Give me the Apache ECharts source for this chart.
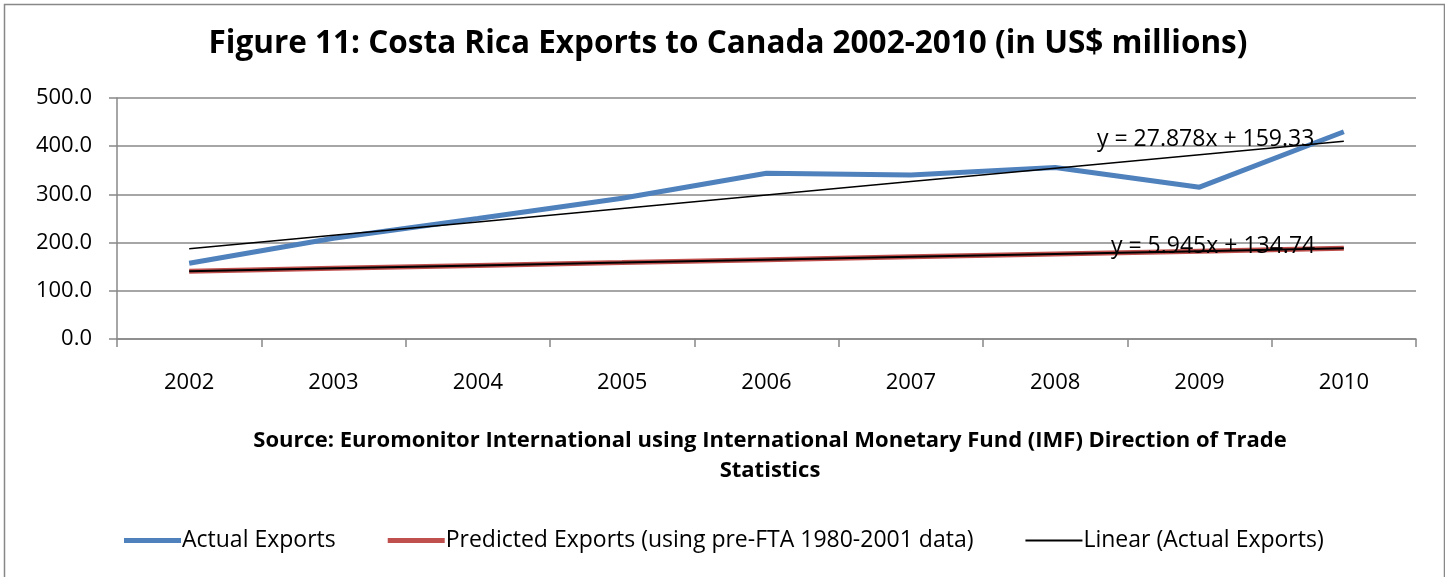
<!DOCTYPE html>
<html>
<head>
<meta charset="utf-8">
<script src="https://cdn.jsdelivr.net/npm/echarts@6/dist/echarts.min.js"></script>
<style>
  html, body { margin: 0; padding: 0; background: #fff; }
  #chart { width: 1445px; height: 577px; }
</style>
</head>
<body>
<div id="chart"></div>
<script>
// Years on the category axis
const years = ['2002', '2003', '2004', '2005', '2006', '2007', '2008', '2009', '2010'];
// Costa Rica exports to Canada, US$ millions
const actualExports = [157, 209, 250, 292, 344, 340, 356, 315, 430];
// Predicted from the pre-FTA 1980-2001 trend
const predictedExports = [140.7, 146.6, 152.6, 158.5, 164.5, 170.4, 176.4, 182.3, 188.2];
// Linear trend coefficients [slope, intercept], x = 1..9
const actualTrend = [27.878, 159.33];
const predictedTrend = [5.945, 134.74];
const yTicks = [0, 100, 200, 300, 400, 500];

const FONT = '"Open Sans", Lato, sans-serif';
const trendPoints = (c) => years.map((_, i) => +(c[0] * (i + 1) + c[1]).toFixed(2));
const eq = (c) => 'y = ' + c[0].toFixed(3) + 'x + ' + c[1].toFixed(2);

const chart = echarts.init(document.getElementById('chart'), null, { renderer: 'canvas' });

chart.setOption({
  animation: false,
  backgroundColor: '#fff',
  title: [
    {
      text: 'Figure 11: Costa Rica Exports to Canada 2002-2010 (in US$ millions)',
      left: 723, top: 23, textAlign: 'center',
      textStyle: { fontFamily: FONT, fontWeight: 'bold', fontSize: 31.5, color: '#000' }
    },
    {
      text: 'Source: Euromonitor International using International Monetary Fund (IMF) Direction of Trade\nStatistics',
      left: 765, top: 421, textAlign: 'center',
      textStyle: { fontFamily: FONT, fontWeight: 'bold', fontSize: 22, lineHeight: 30, color: '#000', align: 'center' }
    }
  ],
  grid: { left: 117, right: 29, top: 98, bottom: 238 },
  legend: {
    left: 119, top: 524,
    itemWidth: 57, itemHeight: 5, itemGap: 52,
    textStyle: { fontFamily: FONT, fontSize: 23, color: '#000', padding: [0, 0, 0, -4] },
    data: [
      { name: 'Actual Exports', icon: 'path://M0,0H57V5H0Z' },
      { name: 'Predicted Exports (using pre-FTA 1980-2001 data)', icon: 'path://M0,0H57V5H0Z' },
      { name: 'Linear (Actual Exports)', icon: 'path://M0,0H57V2H0Z' }
    ]
  },
  xAxis: {
    type: 'category', data: years, boundaryGap: true,
    axisLine: { lineStyle: { color: '#888', width: 1.5 } },
    axisTick: { show: true, length: 8, alignWithLabel: false, lineStyle: { color: '#888', width: 1.5 } },
    axisLabel: { fontFamily: FONT, fontSize: 22, color: '#000', margin: 33 }
  },
  yAxis: {
    type: 'value', min: 0, max: 500, interval: 100,
    axisLine: { show: true, lineStyle: { color: '#888', width: 1.5 } },
    axisTick: { show: true, length: 8, lineStyle: { color: '#888', width: 1.5 } },
    splitLine: { lineStyle: { color: '#888', width: 1.5 } },
    axisLabel: {
      fontFamily: FONT, fontSize: 22, color: '#000', margin: 25,
      formatter: (v) => yTicks.includes(v) ? v.toFixed(1) : ''
    }
  },
  series: [
    {
      name: 'Actual Exports', type: 'line', data: actualExports,
      symbol: 'none', lineStyle: { color: '#4F81BD', width: 5 }, itemStyle: { color: '#4F81BD' }, z: 3
    },
    {
      name: 'Predicted Exports (using pre-FTA 1980-2001 data)', type: 'line', data: predictedExports,
      symbol: 'none', lineStyle: { color: '#C0504D', width: 5 }, itemStyle: { color: '#C0504D' }, z: 3
    },
    {
      name: 'Linear (Actual Exports)', type: 'line', data: trendPoints(actualTrend),
      symbol: 'none', lineStyle: { color: '#000', width: 1.5 }, itemStyle: { color: '#000' }, z: 4
    },
    {
      name: 'Linear (Predicted Exports)', type: 'line', data: trendPoints(predictedTrend),
      symbol: 'none', lineStyle: { color: '#000', width: 2 }, itemStyle: { color: '#000' }, z: 4
    }
  ],
  graphic: [
    {
      type: 'rect', left: 2, top: 2, z: -1,
      shape: { width: 1440, height: 580 },
      style: { fill: 'none', stroke: '#888', lineWidth: 1.5 }
    },
    {
      type: 'text', left: 1097, top: 128, z: 10,
      style: { text: eq(actualTrend), fontFamily: FONT, fontSize: 23, fill: '#000' }
    },
    {
      type: 'text', left: 1111, top: 235, z: 10,
      style: { text: eq(predictedTrend), fontFamily: FONT, fontSize: 23, fill: '#000' }
    }
  ]
});
</script>
</body>
</html>
